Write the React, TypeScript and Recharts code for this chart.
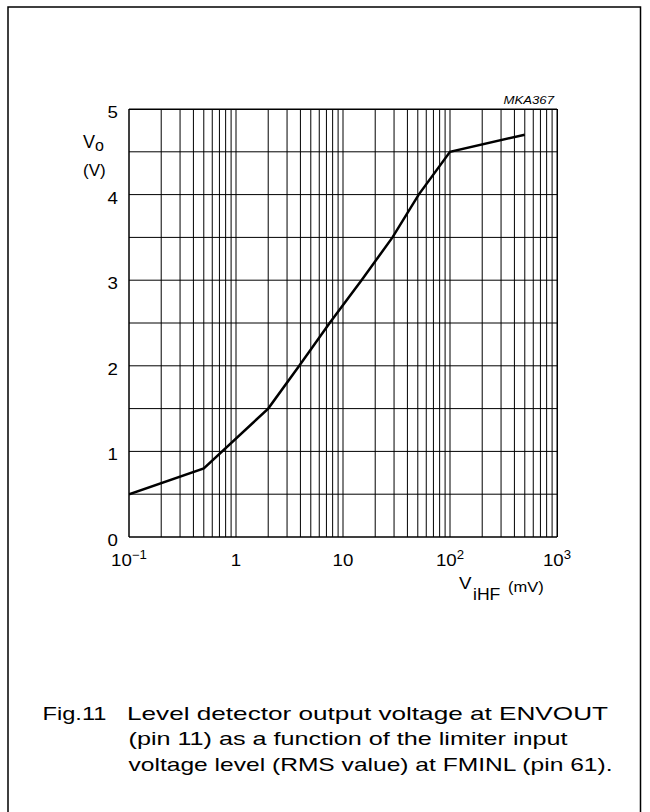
import { LineChart, Line, XAxis, YAxis, CartesianGrid } from 'recharts'

// limiter input level V_iHF (mV) and ENVOUT output V_o (V)
const VIN = [0.1, 0.5, 2, 3.9, 7.5, 14.9, 29, 51, 100, 500]
const VOUT = [0.5, 0.8, 1.5, 2.0, 2.5, 3.0, 3.5, 4.0, 4.5, 4.7]

// log axis: decades get a label, 1..9 steps inside each decade get a grid line
const DECADES = [0.1, 1, 10, 100]
const MINOR_STEPS = [1, 2, 3, 4, 5, 6, 7, 8, 9]
const X_LABEL_VALUES = [0.1, 1, 10, 100, 1000]
const X_LABEL_BASE = ['10', '1', '10', '10', '10']
const X_LABEL_EXP = ['\u22121', '', '', '2', '3']

const Y_TICKS = [0, 0.5, 1, 1.5, 2, 2.5, 3, 3.5, 4, 4.5, 5]
const Y_LABELS = [0, 1, 2, 3, 4, 5]

const CAPTION_NUM = 'Fig.11'
const CAPTION_LINES = [
  'Level detector output voltage at ENVOUT',
  '(pin 11) as a function of the limiter input',
  'voltage level (RMS value) at FMINL (pin 61).',
]

const FONT = '"Liberation Sans", Arial, Helvetica, sans-serif'
const SX = 1.1

const gridX = [...DECADES.flatMap((d) => MINOR_STEPS.map((m) => m * d)), 1000]
const data = VIN.map((v, i) => ({ vin: v, vout: VOUT[i] }))

const stretch = (x: number, y: number, s = SX) =>
  `translate(${x} ${y}) scale(${s} 1) translate(${-x} ${-y})`

function renderXTick(props: any) {
  const { x, y, payload } = props
  const i = X_LABEL_VALUES.findIndex((v) => Math.abs(v - payload.value) < 1e-9)
  if (i < 0) return <g key={`xt-${payload.value}`} />
  const ty = y + 29
  return (
    <text key={`xt-${payload.value}`} x={x} y={ty} textAnchor="middle" fontSize={17} fontFamily={FONT} fill="#000" transform={stretch(x, ty)}>
      {X_LABEL_BASE[i]}
      {X_LABEL_EXP[i] && (
        <tspan dy={-7} fontSize={12}>
          {X_LABEL_EXP[i]}
        </tspan>
      )}
    </text>
  )
}

function renderYTick(props: any) {
  const { x, y, payload } = props
  if (!Y_LABELS.includes(payload.value)) return <g key={`yt-${payload.value}`} />
  const tx = x - 11
  const ty = y + 9
  return (
    <text key={`yt-${payload.value}`} x={tx} y={ty} textAnchor="end" fontSize={17} fontFamily={FONT} fill="#000" transform={stretch(tx, ty)}>
      {payload.value}
    </text>
  )
}

export default function App() {
  return (
    <div style={{ position: 'absolute', left: 0, top: 0, width: 650, height: 812, background: '#fff', overflow: 'hidden' }}>
      <div style={{ position: 'absolute', left: 0, top: 0 }}>
        <LineChart width={650} height={812} data={data} margin={{ top: 109, left: 128, right: 93, bottom: 274 }}>
          <CartesianGrid stroke="#000" strokeWidth={1} />
          <XAxis
            dataKey="vin"
            type="number"
            scale="log"
            domain={[0.1, 1000]}
            ticks={gridX}
            interval={0}
            height={1}
            tickSize={0}
            tickMargin={0}
            tickLine={false}
            axisLine={{ stroke: '#000' }}
            tick={renderXTick}
            allowDataOverflow
          />
          <YAxis
            type="number"
            domain={[0, 5]}
            ticks={Y_TICKS}
            interval={0}
            width={1}
            tickSize={0}
            tickMargin={0}
            tickLine={false}
            axisLine={{ stroke: '#000' }}
            tick={renderYTick}
            allowDataOverflow
          />
          <Line
            dataKey="vout"
            type="linear"
            stroke="#000"
            strokeWidth={2.5}
            dot={false}
            activeDot={false}
            isAnimationActive={false}
          />
        </LineChart>
      </div>

      <svg width={650} height={812} style={{ position: 'absolute', left: 0, top: 0, pointerEvents: 'none' }}>
        {/* frame, open at the bottom */}
        <path d="M8 812 V7 H640.5 V812" fill="none" stroke="#000" strokeWidth={1.5} />
        <line x1={129} y1={109.5} x2={557} y2={109.5} stroke="#000" />
        <line x1={557.5} y1={109} x2={557.5} y2={537} stroke="#000" />

        <text x={554} y={104} textAnchor="end" fontSize={11} fontStyle="italic" fontFamily={FONT} transform={stretch(554, 104, 1.2)}>
          MKA367
        </text>

        <text x={83} y={148} fontSize={18} fontFamily={FONT}>
          V
          <tspan dy={3} fontSize={16}>o</tspan>
        </text>
        <text x={83} y={176} fontSize={17} fontFamily={FONT}>
          (V)
        </text>

        <text x={459} y={589} fontSize={17} fontFamily={FONT} transform={stretch(459, 589)}>
          V
        </text>
        <text x={473} y={600} fontSize={16} fontFamily={FONT} transform={stretch(473, 600)}>
          iHF
        </text>
        <text x={508} y={592} fontSize={15} fontFamily={FONT} transform={stretch(508, 592)}>
          (mV)
        </text>

        <text x={42.5} y={719.5} fontSize={18.5} fontFamily={FONT} textLength={64} lengthAdjust="spacingAndGlyphs">
          {CAPTION_NUM}
        </text>
        <text x={127} y={719.5} fontSize={18.5} fontFamily={FONT} textLength={481} lengthAdjust="spacingAndGlyphs">
          {CAPTION_LINES[0]}
        </text>
        <text x={128.5} y={745} fontSize={18.5} fontFamily={FONT} textLength={439} lengthAdjust="spacingAndGlyphs">
          {CAPTION_LINES[1]}
        </text>
        <text x={128.5} y={770.5} fontSize={18.5} fontFamily={FONT} textLength={484} lengthAdjust="spacingAndGlyphs">
          {CAPTION_LINES[2]}
        </text>
      </svg>
    </div>
  )
}
